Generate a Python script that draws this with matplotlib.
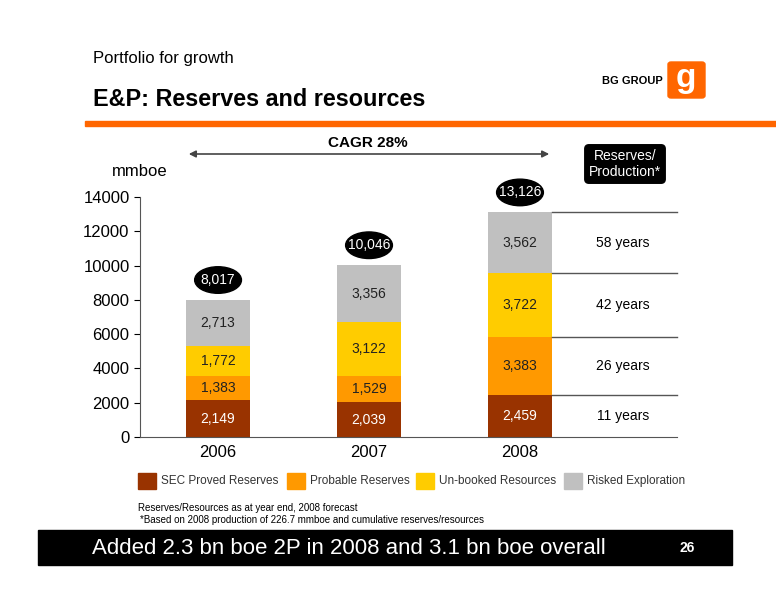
import matplotlib.pyplot as plt
from matplotlib.patches import Ellipse, FancyBboxPatch, Rectangle
import numpy as np

plt.rcParams['font.family'] = ['Liberation Sans', 'DejaVu Sans']

years = ["2006", "2007", "2008"]
sec = [2149, 2039, 2459]
probable = [1383, 1529, 3383]
unbooked = [1772, 3122, 3722]
risked = [2713, 3356, 3562]
totals = ["8,017", "10,046", "13,126"]
rp_years = ["11 years", "26 years", "42 years", "58 years"]

series = [("SEC Proved Reserves", sec, "#993300", "white"),
          ("Probable Reserves", probable, "#FF9900", "#222222"),
          ("Un-booked Resources", unbooked, "#FFCC00", "#222222"),
          ("Risked Exploration", risked, "#C0C0C0", "#222222")]

fig = plt.figure(figsize=(7.76, 6), dpi=100)
W, H = 776, 600


def fx(px):
    return px / W


def fy(py):
    return 1 - py / H


ax = fig.add_axes([fx(140), fy(437), fx(537), 240 / H])
x = np.arange(3)
width = 0.42
bottom = np.zeros(3)
for name, vals, col, tcol in series:
    ax.bar(x, vals, width, bottom=bottom, color=col, label=name)
    for i, v in enumerate(vals):
        ax.text(x[i], bottom[i] + v / 2, f"{v:,}", ha="center", va="center",
                fontsize=10, color=tcol)
    bottom += np.array(vals)

# totals in black ellipses
for i, t in enumerate(totals):
    ax.add_patch(Ellipse((x[i], bottom[i] + 1140), 0.31, 1550, color="black", clip_on=False))
    ax.text(x[i], bottom[i] + 1140, t, ha="center", va="center", color="white", fontsize=10)

# reserves/production lines and labels for 2008
cum = np.cumsum([sec[2], probable[2], unbooked[2], risked[2]])
lows = np.concatenate([[0], cum[:-1]])
for c in cum:
    ax.plot([x[2] + width / 2, 3.04], [c, c], color="#555555", lw=1, clip_on=False)
for lo, hi, lab in zip(lows, cum, rp_years):
    ax.text(2.68, (lo + hi) / 2, lab, ha="center", va="center", fontsize=10)

ax.set_xlim(-0.517, 3.04)
ax.set_ylim(0, 14000)
ax.set_yticks(range(0, 14001, 2000))
ax.set_xticks(x)
ax.set_xticklabels(years, fontsize=12)
ax.tick_params(axis="y", labelsize=12, direction="out", length=4)
ax.tick_params(axis="x", length=0, pad=6)
for s in ["top", "right"]:
    ax.spines[s].set_visible(False)
ax.spines["bottom"].set_color("#555555")
ax.spines["left"].set_color("#555555")

# legend
leg_x = [138, 287, 416, 564]
for (name, vals, col, tcol), lx in zip(series, leg_x):
    fig.patches.append(Rectangle((fx(lx), fy(489)), fx(18), 16 / H, color=col,
                                 transform=fig.transFigure))
    fig.text(fx(lx + 23), fy(481), name, fontsize=8.5, va="center", color="#333333")

# header
fig.text(fx(93), fy(58), "Portfolio for growth", fontsize=12, va="center")
fig.text(fx(93), fy(100), "E&P: Reserves and resources", fontsize=16.8, weight="bold", va="center")
fig.patches.append(Rectangle((fx(85), fy(126)), 1, 5 / H, color="#FF6600",
                             transform=fig.transFigure))
fig.text(fx(602), fy(81), "BG GROUP", fontsize=8, weight="bold", va="center")
fig.patches.append(FancyBboxPatch((fx(668), fy(98)), fx(37), 36 / H, boxstyle="round,pad=0,rounding_size=0.004",
                                  color="#FF6600", transform=fig.transFigure))
fig.text(fx(686), fy(79), "g", fontsize=24, weight="bold", color="white", ha="center", va="center")

# CAGR arrow
fig.text(fx(368), fy(143), "CAGR 28%", fontsize=11, weight="bold", ha="center", va="center")
ax.annotate("", xy=(fx(552), fy(154)), xytext=(fx(186), fy(154)), xycoords="figure fraction",
            arrowprops=dict(arrowstyle="<|-|>", color="#444444", lw=1.2))
fig.text(fx(625), fy(164), "Reserves/\nProduction*", fontsize=10, color="white", ha="center",
         va="center", bbox=dict(boxstyle="round,pad=0.3", fc="black"))
fig.text(fx(140), fy(172), "mmboe", fontsize=12, ha="center", va="center")

# footnotes
fig.text(fx(138), fy(511), "Reserves/Resources as at year end, 2008 forecast", fontsize=7)
fig.text(fx(140), fy(523), "*Based on 2008 production of 226.7 mmboe and cumulative reserves/resources", fontsize=7)

# bottom band
fig.patches.append(Rectangle((fx(38), fy(565)), fx(694), 35 / H, color="black",
                             transform=fig.transFigure))
fig.text(fx(92), fy(548), "Added 2.3 bn boe 2P in 2008 and 3.1 bn boe overall", fontsize=16,
         color="white", va="center")
fig.text(fx(680), fy(548), "26", fontsize=10, weight="bold", color="white", va="center")

fig.savefig("out.png", dpi=100)
